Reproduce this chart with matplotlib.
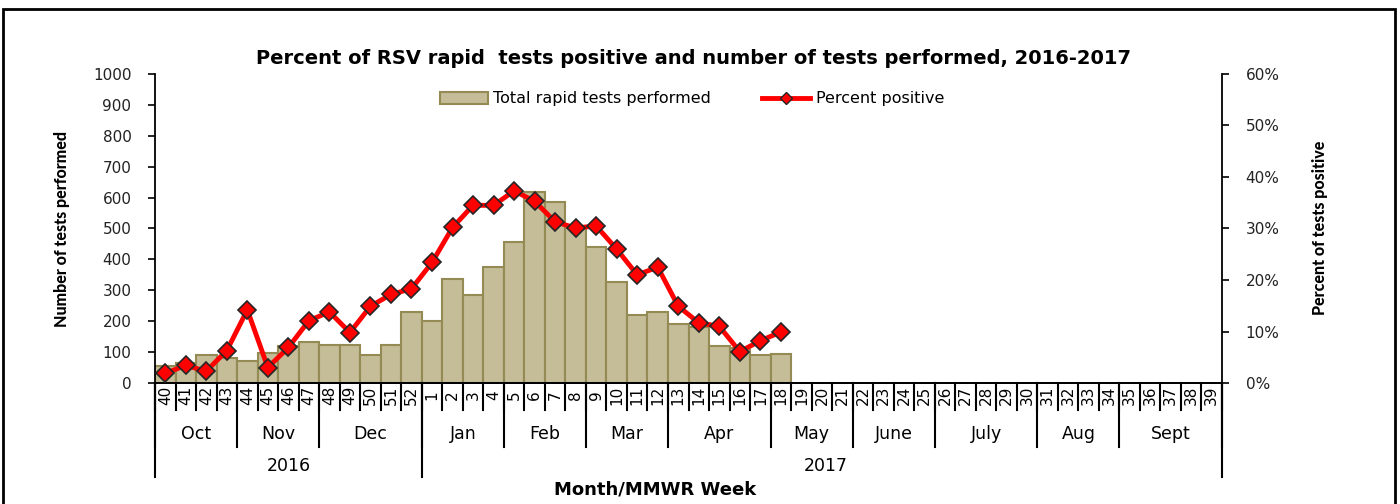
import matplotlib
matplotlib.use("Agg")
import matplotlib.pyplot as plt
from matplotlib.lines import Line2D
from matplotlib.patches import Patch, Rectangle
from matplotlib.ticker import FuncFormatter, MultipleLocator

plt.rcParams['font.family'] = ['DejaVu Sans']

week_labels = ["40", "41", "42", "43", "44", "45", "46", "47", "48", "49", "50", "51", "52",
               "1", "2", "3", "4", "5", "6", "7", "8", "9", "10", "11", "12", "13", "14",
               "15", "16", "17", "18", "19", "20", "21", "22", "23", "24", "25", "26", "27",
               "28", "29", "30", "31", "32", "33", "34", "35", "36", "37", "38", "39"]
months = ["Oct", "Nov", "Dec", "Jan", "Feb", "Mar", "Apr", "May", "June", "July", "Aug", "Sept"]
month_weeks = [4, 4, 5, 4, 4, 4, 5, 4, 4, 5, 4, 5]
years = ["2016", "2017"]
year_weeks = [13, 39]

tests_performed = [55, 65, 90, 81, 71, 97, 119, 134, 124, 124, 90, 124, 231,
                   200, 337, 284, 375, 455, 618, 586, 502, 439, 326, 221, 231, 192, 181,
                   121, 113, 90, 95]
percent_positive = [1.9, 3.4, 2.3, 6.3, 14.2, 3.0, 6.9, 12.1, 13.8, 9.8, 14.9, 17.2, 18.3,
                    23.4, 30.2, 34.5, 34.5, 37.3, 35.3, 31.3, 30.1, 30.5, 26.0, 21.0, 22.5,
                    14.9, 11.7, 11.0, 6.1, 8.2, 9.9]

W, H = 1400, 504
fig = plt.figure(figsize=(W / 100, H / 100), dpi=100)
fig.patch.set_facecolor('white')

L, R, T, B = 155, 1222, 74, 383
ax = fig.add_axes([L / W, 1 - B / H, (R - L) / W, (B - T) / H])
ax2 = ax.twinx()

n = len(week_labels)
xs = list(range(len(tests_performed)))
ax.bar(xs, tests_performed, width=1.0, color='#C4BD97', edgecolor='#948A54', linewidth=1.5, zorder=2)
ax2.plot(xs, percent_positive, color='#FF0000', linewidth=3.5, marker='D', markersize=9.5,
         markerfacecolor='#FF0000', markeredgecolor='#262626', markeredgewidth=1.2, zorder=3)

ax.set_xlim(-0.5, n - 0.5)
ax.set_ylim(0, 1000)
ax2.set_ylim(0, 60)
ax.yaxis.set_major_locator(MultipleLocator(100))
ax2.yaxis.set_major_locator(MultipleLocator(10))
ax2.yaxis.set_major_formatter(FuncFormatter(lambda v, p: f"{int(round(v))}%"))

for a in (ax, ax2):
    a.spines['top'].set_visible(False)
    for s in ('left', 'right', 'bottom'):
        a.spines[s].set_linewidth(1.3)
        a.spines[s].set_color('black')
    a.set_xticks([])
ax.spines['right'].set_visible(False)
ax2.spines['left'].set_visible(False)
ax.tick_params(axis='y', direction='out', length=5, width=1.2, labelsize=11, pad=12, labelcolor='#222222')
ax2.tick_params(axis='y', direction='out', length=5, width=1.2, labelsize=11, pad=12, labelcolor='#222222')

tr = ax.get_xaxis_transform()
ah = B - T

def yax(px):
    return (B - px) / ah

def vline(x, ybot_px):
    ax.add_line(Line2D([x, x], [0, yax(ybot_px)], transform=tr, color='black', lw=1.5, clip_on=False))

# week labels and separators
for i, lab in enumerate(week_labels):
    ax.text(i, yax(395), lab, rotation=90, ha='center', va='center', fontsize=11, transform=tr)
for i in range(n + 1):
    vline(i - 0.5, 410)

# month labels and separators
start = 0
vline(-0.5, 447)
for m, k in zip(months, month_weeks):
    ax.text(start + k / 2 - 0.5, yax(434), m, ha='center', va='center', fontsize=12.5, transform=tr)
    start += k
    vline(start - 0.5, 447)

# year labels and separators
start = 0
vline(-0.5, 477)
for y, k in zip(years, year_weeks):
    cx = start + k / 2 - 0.5
    if y == "2017":
        cx = start + 19.7 - 0.5
    ax.text(cx, yax(466), y, ha='center', va='center', fontsize=12.5, transform=tr)
    start += k
    vline(start - 0.5, 477)

fig.text(655 / W, 1 - 490 / H, "Month/MMWR Week", ha='center', va='center', fontsize=13, fontweight='bold')
fig.text(693 / W, 1 - 58 / H, "Percent of RSV rapid  tests positive and number of tests performed, 2016-2017",
         ha='center', va='center', fontsize=14, fontweight='bold')
fig.text(62 / W, 1 - 229 / H, "Number of tests performed", rotation=90, ha='center', va='center',
         fontsize=11.5, fontweight='black', family='Lato')
fig.text(1320 / W, 1 - 228 / H, "Percent of tests positive", rotation=90, ha='center', va='center',
         fontsize=11.5, fontweight='black', family='Lato')

handles = [Patch(facecolor='#C4BD97', edgecolor='#948A54', linewidth=1.5),
           Line2D([], [], color='#FF0000', lw=3.5, marker='D', markersize=6,
                  markerfacecolor='#FF0000', markeredgecolor='#262626')]
fig.legend(handles, ["Total rapid tests performed", "Percent positive"], loc='center',
           bbox_to_anchor=(692 / W, 1 - 99 / H), ncol=2, frameon=False, fontsize=11.5,
           handlelength=3.0, columnspacing=3.2, handletextpad=0.35)

fig.add_artist(Rectangle((3 / W, -0.02), (1395 - 3) / W, 1.02 - 9 / H, transform=fig.transFigure,
                         fill=False, edgecolor='black', linewidth=2, clip_on=False))

fig.savefig("out.png", dpi=100)
